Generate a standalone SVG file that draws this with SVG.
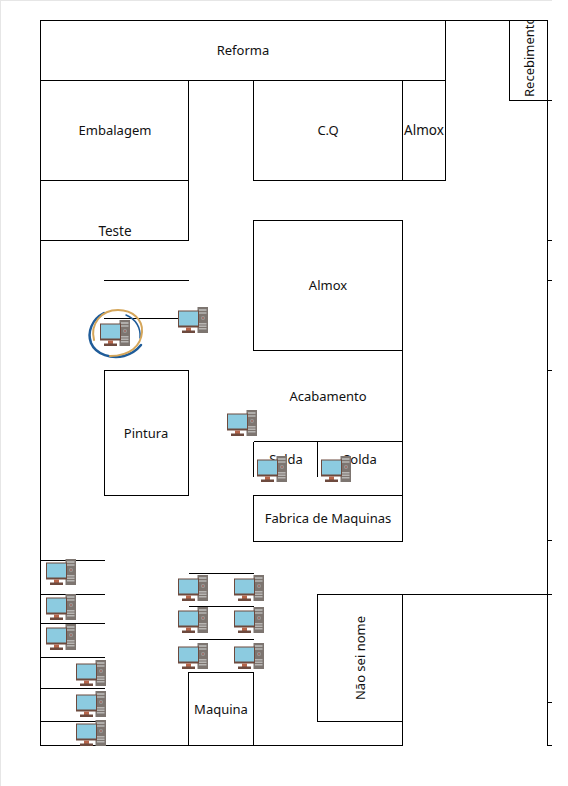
<svg xmlns="http://www.w3.org/2000/svg" xmlns:xlink="http://www.w3.org/1999/xlink" width="568" height="786" viewBox="0 0 568 786">
<style>
.w{fill:none;stroke:#000;stroke-width:1;shape-rendering:crispEdges}
text{font-family:"Noto Sans","Open Sans",sans-serif;font-size:13px;fill:#111;text-anchor:middle}
</style>
<defs>
<clipPath id="rc"><rect x="509" y="21" width="39" height="80"/></clipPath>
<symbol id="pc" width="31" height="27" viewBox="0 0 31 27" overflow="visible">
<rect x="19.500" y="0" width="10.500" height="26" fill="#7d7570"/>
<rect x="21" y="2" width="7.500" height="2" fill="#b0aeab"/>
<rect x="21" y="5" width="7.500" height="2" fill="#a8a6a3"/>
<circle cx="25" cy="11" r="2" fill="#9a9a98"/>
<circle cx="25" cy="11" r=".8" fill="#a0443a"/>
<rect x="21" y="16" width="7.500" height="1.500" fill="#b8b6b3"/>
<rect x="21" y="18.500" width="7.500" height="1.500" fill="#b8b6b3"/>
<rect x="21" y="21" width="7.500" height="1.500" fill="#b8b6b3"/>
<rect x="0" y="3.500" width="21" height="17" fill="#6d4a3e"/>
<rect x="1" y="4.500" width="19" height="14" fill="#8ccbe0"/>
<rect x="8" y="20.500" width="5" height="3.500" fill="#b5654a"/>
<rect x="4" y="23.500" width="13" height="2.500" fill="#6d4a3e"/>
</symbol>
</defs>
<rect width="568" height="786" fill="#fff"/>
<rect x="0" y="0" width="552" height="1" fill="#e6e6e6"/>
<rect x="0" y="0" width="1" height="786" fill="#e6e6e6"/>
<g id="connectors">
<path class="w" d="M40.500 20.500H547.500V745.500H552M547.500 100.500H552M547.500 240.500H552M547.500 280.500H552M547.500 370.500H552M547.500 540.500H552M402.500 594.500H552M547.500 702.500H552"/>
<path class="w" d="M40.500 20.500V745.500H402.500V721.500M40.500 560.500H105M40.500 594.500H105M40.500 623.500H105M40.500 657.500H105M40.500 688.500H105M40.500 721.500H105M188.500 573.500H254M188.500 606.500H254M188.500 639.500H254M104 280.500H188.500M104 318.500H178M402.500 350.500V541"/>
</g>
<g id="reforma"><rect class="w" x="40.500" y="20.500" width="405" height="60"/><text x="243" y="55">Reforma</text></g>
<g id="embalagem"><rect class="w" x="40.500" y="80.500" width="148" height="100"/><text x="115" y="135">Embalagem</text></g>
<g id="teste"><rect class="w" x="40.500" y="180.500" width="148" height="60"/><text x="115" y="236" style="font-size:13.500px">Teste</text></g>
<g id="cq"><rect class="w" x="253.500" y="80.500" width="149" height="100"/><text x="328" y="135">C.Q</text></g>
<g id="almox1"><rect class="w" x="402.500" y="80.500" width="43" height="100"/><text x="424" y="135" style="font-size:13.500px">Almox</text></g>
<g id="recebimento"><rect class="w" x="509.500" y="20.500" width="38" height="80"/><g clip-path="url(#rc)"><text transform="translate(534 97) rotate(-90)" style="text-anchor:start">Recebimento</text></g></g>
<g id="almox2"><rect class="w" x="253.500" y="220.500" width="149" height="130"/><text x="328" y="290">Almox</text></g>
<g id="acabamento"><path class="w" d="M253.500 441.500H402.500"/><text x="328" y="401">Acabamento</text></g>
<g id="solda1"><path class="w" d="M253.500 441.500V477"/><text x="286" y="464">Solda</text></g>
<g id="solda2"><path class="w" d="M317.500 441.500V477"/><text x="360" y="464">Solda</text></g>
<g id="fabrica"><rect class="w" x="253.500" y="495.500" width="149" height="46"/><text x="328" y="523">Fabrica de Maquinas</text></g>
<g id="pintura"><rect class="w" x="104.500" y="370.500" width="84" height="125"/><text x="146" y="438">Pintura</text></g>
<g id="maquina"><rect class="w" x="188.500" y="672.500" width="65" height="73"/><text x="221" y="714">Maquina</text></g>
<g id="naosei"><rect class="w" x="317.500" y="594.500" width="85" height="127"/><text transform="translate(365 658) rotate(-90)">Não sei nome</text></g>
<g id="logo" fill="none" stroke-linecap="round">
<path d="M104 313C92 319 87 332 91 343C96 355 112 359 124 356C131 354 137 350 141 345" stroke="#1f5c99" stroke-width="2.500"/>
<path d="M126 315C136 319 141 328 140 338" stroke="#1f5c99" stroke-width="1.500"/>
<path d="M94 340C90 324 101 310 118 310C133 310 143 320 142 332C141 346 130 356 110 356" stroke="#d5a65a" stroke-width="2"/>
</g>
<g id="pc1"><use xlink:href="#pc" href="#pc" x="100" y="320"/></g>
<g id="pc2"><use xlink:href="#pc" href="#pc" x="178" y="307"/></g>
<g id="pc3"><use xlink:href="#pc" href="#pc" x="227" y="410"/></g>
<g id="pc4"><use xlink:href="#pc" href="#pc" x="257" y="456"/></g>
<g id="pc5"><use xlink:href="#pc" href="#pc" x="321" y="456"/></g>
<g id="pc6"><use xlink:href="#pc" href="#pc" x="46" y="559"/></g>
<g id="pc7"><use xlink:href="#pc" href="#pc" x="46" y="594"/></g>
<g id="pc8"><use xlink:href="#pc" href="#pc" x="46" y="624"/></g>
<g id="pc9"><use xlink:href="#pc" href="#pc" x="76" y="660"/></g>
<g id="pc10"><use xlink:href="#pc" href="#pc" x="76" y="691"/></g>
<g id="pc11"><use xlink:href="#pc" href="#pc" x="76" y="720"/></g>
<g id="pc12"><use xlink:href="#pc" href="#pc" x="178" y="575"/></g>
<g id="pc13"><use xlink:href="#pc" href="#pc" x="234" y="575"/></g>
<g id="pc14"><use xlink:href="#pc" href="#pc" x="178" y="607"/></g>
<g id="pc15"><use xlink:href="#pc" href="#pc" x="234" y="607"/></g>
<g id="pc16"><use xlink:href="#pc" href="#pc" x="178" y="643"/></g>
<g id="pc17"><use xlink:href="#pc" href="#pc" x="234" y="643"/></g>
</svg>
